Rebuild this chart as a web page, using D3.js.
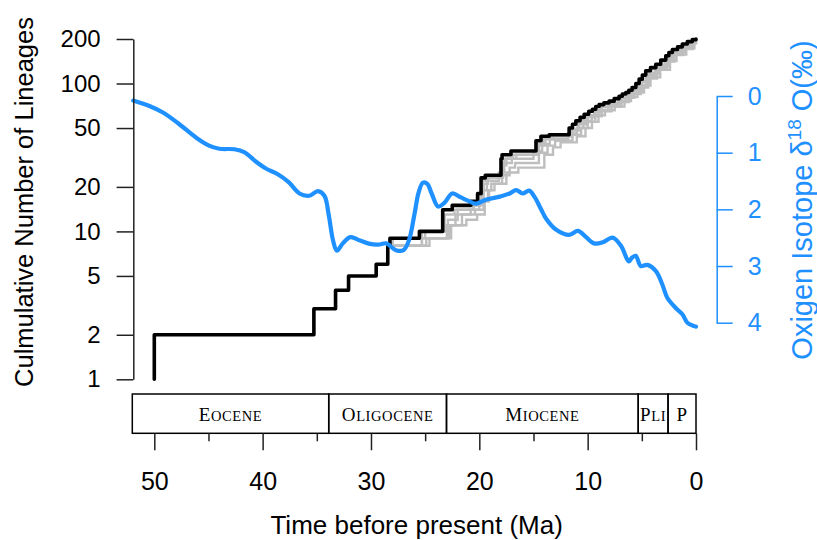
<!DOCTYPE html>
<html>
<head>
<meta charset="utf-8">
<script src="https://cdn.jsdelivr.net/npm/d3@7"></script>
<style>
  body { margin: 0; background: #fff; }
  text { font-family: "Liberation Sans", Arial, sans-serif; }
</style>
</head>
<body>
<script>
var W = 817, H = 540;

// lineages through time of the summary tree (Ma before present, lineages)
var lttTime = [50.0, 50.0, 35.27, 33.27, 32.07, 29.52, 28.45, 28.25, 25.53, 23.38, 22.5, 20.77, 20.16, 19.84, 19.45,
  18.0, 17.9, 17.08, 14.77, 14.31, 13.55, 11.71, 11.4, 11.09, 10.7, 10.32, 9.9, 9.56, 9.25, 8.94, 8.5, 8.02,
  7.55, 7.1, 6.8, 6.48, 6.2, 5.9, 5.55, 5.25, 4.95, 4.64, 4.2, 3.71, 3.25, 2.79, 2.5, 2.18, 1.7, 1.26, 0.8, 0.34, 0];
var lttN = [1, 2, 3, 4, 5, 6, 8, 9, 10, 14, 15, 16, 18, 23, 24,
  31, 33, 35, 41, 44, 45, 50, 53, 56, 59, 62, 65, 67, 70, 72, 74, 76,
  79, 82, 85, 87, 90, 94, 100, 107, 114, 122, 128, 135, 144, 154, 162, 170, 177, 185, 192, 198, 200];

// a few posterior trees, drawn in grey
var repATime = [28.2, 28.0, 25.0, 22.9, 22.0, 20.5, 19.9, 19.6, 19.2, 17.8, 17.5, 16.6, 14.5, 13.9, 13.2, 11.4, 10.8,
  10.0, 9.3, 8.7, 7.8, 6.9, 6.3, 5.7, 5.0, 4.4, 3.5, 2.6, 2.0, 1.1, 0.25, 0];
var repAN = [8, 9, 10, 12, 14, 15, 17, 21, 23, 28, 31, 33, 38, 42, 44, 48, 53,
  59, 64, 69, 73, 79, 84, 90, 102, 116, 130, 148, 163, 178, 195, 197];
var repBTime = [27.8, 24.6, 22.6, 21.2, 20.2, 19.5, 19.1, 18.6, 17.5, 16.4, 14.0, 13.2, 12.5, 11.0, 10.2, 9.6, 9.0,
  8.4, 7.5, 6.6, 6.0, 5.4, 4.8, 4.2, 3.3, 2.4, 1.8, 0.9, 0.15, 0];
var repBN = [8, 9, 11, 12, 13, 16, 19, 21, 25, 27, 33, 37, 40, 44, 50, 55, 61,
  66, 70, 76, 81, 87, 97, 110, 124, 142, 157, 173, 190, 192];
var repCTime = [28.1, 25.3, 23.0, 22.2, 20.8, 20.0, 19.7, 19.3, 18.2, 17.7, 17.0, 15.0, 14.2, 13.5, 11.8, 11.0, 10.4,
  9.6, 9.0, 8.1, 7.2, 6.5, 6.0, 5.3, 4.6, 3.8, 2.9, 2.2, 1.4, 0.5, 0];
var repCN = [8, 9, 11, 13, 14, 15, 19, 22, 25, 29, 31, 35, 39, 42, 46, 50, 56,
  61, 66, 71, 76, 81, 87, 97, 112, 127, 145, 160, 175, 190, 194];
var repDTime = [28.3, 25.3, 23.2, 22.3, 20.6, 20.0, 19.7, 19.3, 17.9, 17.7, 16.9, 14.6, 14.1, 13.4, 11.5, 10.9,
  10.1, 9.4, 8.8, 7.9, 7.0, 6.4, 5.8, 5.1, 4.5, 3.6, 2.7, 2.1, 1.2, 0.3, 0];
var repDN = [8, 10, 13, 14, 15, 17, 22, 23, 29, 31, 33, 39, 43, 44, 49, 54,
  60, 65, 70, 74, 80, 85, 91, 104, 118, 132, 150, 166, 181, 196, 198];
var repETime = [27.9, 24.9, 22.8, 21.6, 20.4, 19.6, 19.2, 18.9, 17.9, 17.2, 16.7, 14.5, 13.7, 13.0, 11.4, 10.6,
  10.0, 9.3, 8.7, 7.8, 6.9, 6.2, 5.7, 5.1, 4.4, 3.6, 2.7, 2.0, 1.2, 0.3, 0];
var repEN = [8, 9, 11, 13, 14, 16, 19, 21, 24, 27, 29, 34, 38, 41, 45, 50,
  55, 60, 65, 70, 75, 80, 85, 94, 108, 124, 141, 156, 171, 187, 193];

// benthic oxygen isotope curve (Ma, per mil)
var d18oTime = [51.95, 50.4, 49.2, 47.8, 46.1, 45.0, 44.0, 42.6, 41.7, 40.6, 39.7, 38.6, 37.6, 36.6, 35.7, 34.9,
  34.3, 33.9, 33.5, 33.15, 32.6, 31.9, 31.0, 30.1, 29.2, 28.6, 27.7, 27.0, 26.5, 26.0, 25.6, 25.2, 24.8, 24.4,
  23.8, 23.2, 22.5, 21.7, 20.9, 20.3, 19.4, 18.2, 17.2, 16.6, 16.0, 15.4, 14.9, 14.3, 13.85, 12.9, 11.7, 10.9,
  10.2, 9.4, 8.6, 7.7, 6.9, 6.2, 5.9, 5.56, 5.1, 4.5, 3.7, 3.1, 2.65, 1.87, 1.26, 0.8, 0.18, 0];
var d18oValue = [0.08, 0.18, 0.29, 0.48, 0.74, 0.87, 0.93, 0.94, 0.99, 1.16, 1.28, 1.38, 1.52, 1.72, 1.76, 1.68,
  1.76, 2.1, 2.55, 2.73, 2.6, 2.49, 2.55, 2.61, 2.62, 2.6, 2.72, 2.72, 2.55, 2.1, 1.7, 1.53, 1.55, 1.72,
  1.95, 1.88, 1.72, 1.79, 1.86, 1.9, 1.83, 1.78, 1.72, 1.66, 1.72, 1.67, 1.78, 2.0, 2.16, 2.36, 2.45, 2.38,
  2.48, 2.6, 2.58, 2.5, 2.65, 2.92, 2.85, 2.82, 3.0, 2.98, 3.09, 3.33, 3.56, 3.74, 3.85, 4.0, 4.06, 4.07];

var epochName = ["Eocene", "Oligocene", "Miocene", "Pli", "P"];
var epochStart = [56, 33.9, 23.03, 5.333, 2.58];
var epochEnd = [33.9, 23.03, 5.333, 2.58, 0];

var yTicks = [1, 2, 5, 10, 20, 50, 100, 200];
var xTicks = [50, 40, 30, 20, 10, 0];
var xMinor = [45, 35, 25, 15, 5];
var oTicks = [0, 1, 2, 3, 4];

var blue = "#1e90ff";

var svg = d3.select("body").append("svg")
  .attr("width", W)
  .attr("height", H);

var x = d3.scaleLinear().domain([50, 0]).range([154.3, 696]);
var y = d3.scaleLog().domain([1, 200]).range([379.3, 39]);
var yo = d3.scaleLinear().domain([0, 4]).range([96, 322.7]);
var plotLeft = 133.3;
var maxAge = x.invert(132.3);

function zip(t, v) {
  return t.map(function(d, i) { return [d, v[i]]; });
}

var step = d3.line()
  .x(function(d) { return x(d[0]); })
  .y(function(d) { return y(d[1]); })
  .curve(d3.curveStepAfter);

// grey posterior trees
[[repATime, repAN], [repBTime, repBN], [repCTime, repCN], [repDTime, repDN], [repETime, repEN]].forEach(function(r) {
  svg.append("path")
    .attr("d", step(zip(r[0], r[1])))
    .attr("fill", "none")
    .attr("stroke", "#bebebe")
    .attr("stroke-width", 2.4);
});

// summary tree
svg.append("path")
  .attr("d", step(zip(lttTime, lttN)))
  .attr("fill", "none")
  .attr("stroke", "#000")
  .attr("stroke-width", 3.6)
  .attr("stroke-linejoin", "round")
  .attr("stroke-linecap", "round");

// oxygen isotope curve
var oline = d3.line()
  .x(function(d) { return x(d[0]); })
  .y(function(d) { return yo(d[1]); })
  .curve(d3.curveCatmullRom.alpha(0.5));

svg.append("path")
  .attr("d", oline(zip(d18oTime, d18oValue)))
  .attr("fill", "none")
  .attr("stroke", blue)
  .attr("stroke-width", 4.2)
  .attr("stroke-linecap", "round");

// left axis
var gl = svg.append("g")
  .attr("transform", "translate(" + plotLeft + ",0)")
  .call(d3.axisLeft(y).tickValues(yTicks).tickFormat(d3.format("d")).tickSize(16.7).tickSizeOuter(0).tickPadding(16));
gl.selectAll("path, line").attr("stroke", "#222").attr("stroke-width", 1.5);
gl.selectAll("text").attr("font-size", 24).attr("fill", "#000").attr("font-family", "Liberation Sans, Arial, sans-serif");

// right axis
var gr = svg.append("g")
  .attr("transform", "translate(716.7,0)")
  .call(d3.axisRight(yo).tickValues(oTicks).tickFormat(d3.format("d")).tickSize(16).tickSizeOuter(0).tickPadding(15));
gr.selectAll("path, line").attr("stroke", blue).attr("stroke-width", 1.5);
gr.selectAll("text").attr("font-size", 25).attr("fill", blue).attr("font-family", "Liberation Sans, Arial, sans-serif");

// epoch box
var boxTop = 394, boxBot = 433.3;
var eg = svg.append("g");
epochName.forEach(function(name, i) {
  var x0 = x(Math.min(epochStart[i], maxAge)), x1 = x(epochEnd[i]);
  eg.append("rect")
    .attr("x", x0).attr("y", boxTop)
    .attr("width", x1 - x0).attr("height", boxBot - boxTop)
    .attr("fill", "none").attr("stroke", "#000").attr("stroke-width", 1.5);
  var t = eg.append("text")
    .attr("x", (x0 + x1) / 2).attr("y", boxTop + 27)
    .attr("text-anchor", "middle")
    .style("font-family", "Liberation Serif, DejaVu Serif, serif")
    .style("letter-spacing", "0.6px")
    .attr("font-size", 19);
  t.append("tspan").text(name.charAt(0));
  t.append("tspan").attr("font-size", 14.5).text(name.slice(1).toUpperCase());
});

// bottom axis
var gb = svg.append("g")
  .attr("transform", "translate(0," + boxBot + ")")
  .call(d3.axisBottom(x).tickValues(xTicks).tickFormat(d3.format("d")).tickSize(17).tickPadding(22));
gb.select(".domain").remove();
gb.selectAll("line").attr("stroke", "#222").attr("stroke-width", 1.5);
gb.selectAll("text").attr("font-size", 25).attr("fill", "#000").attr("font-family", "Liberation Sans, Arial, sans-serif");

var gm = svg.append("g")
  .attr("transform", "translate(0," + boxBot + ")")
  .call(d3.axisBottom(x).tickValues(xMinor).tickFormat("").tickSize(8));
gm.select(".domain").remove();
gm.selectAll("line").attr("stroke", "#222").attr("stroke-width", 1.5);

// axis titles
svg.append("text")
  .attr("x", (plotLeft + 696) / 2 + 2).attr("y", 533.5)
  .attr("text-anchor", "middle")
  .attr("font-size", 26)
  .text("Time before present (Ma)");

svg.append("text")
  .attr("transform", "translate(33,202) rotate(-90)")
  .attr("text-anchor", "middle")
  .attr("font-size", 25.5)
  .text("Culmulative Number of Lineages");

var rt = svg.append("text")
  .attr("transform", "translate(812,200) rotate(-90)")
  .attr("text-anchor", "middle")
  .attr("font-size", 29)
  .attr("fill", blue);
rt.append("tspan").text("Oxigen Isotope \u03b4");
rt.append("tspan").attr("font-size", 19).attr("dy", -11).text("18");
rt.append("tspan").attr("dy", 11).text(" O(\u2030)");
</script>
</body>
</html>
